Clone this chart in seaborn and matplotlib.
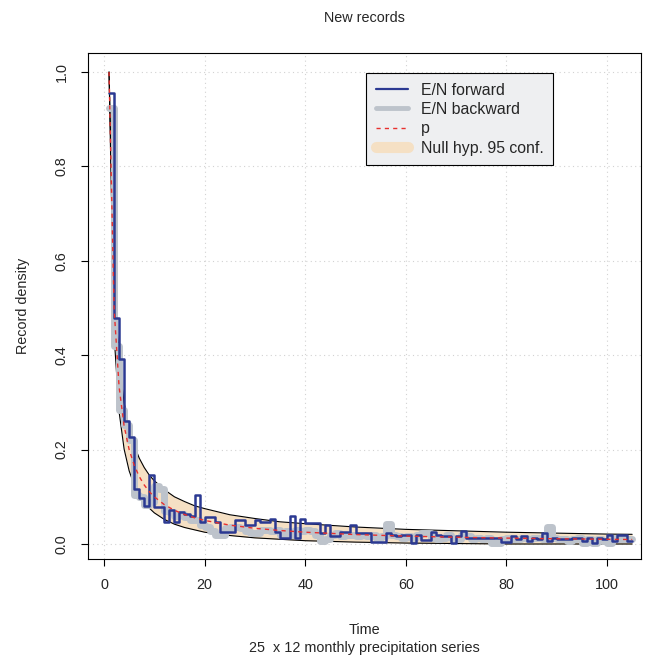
import numpy as np
import pandas as pd
import seaborn as sns
import matplotlib.pyplot as plt
from matplotlib.lines import Line2D

# Zeitachse und Werte
t_steps = list(range(1, 106))

en_forward = [
    0.955, 0.478, 0.393, 0.260, 0.227,
    0.117, 0.097, 0.080, 0.147, 0.079,
    0.079, 0.047, 0.072, 0.047, 0.067,
    0.063, 0.060, 0.104, 0.047, 0.058,
    0.058, 0.047, 0.026, 0.026, 0.026,
    0.051, 0.051, 0.040, 0.040, 0.051,
    0.047, 0.047, 0.054, 0.026, 0.012,
    0.012, 0.060, 0.012, 0.053, 0.044,
    0.044, 0.044, 0.023, 0.040, 0.016,
    0.016, 0.026, 0.026, 0.040, 0.023,
    0.023, 0.023, 0.005, 0.005, 0.005,
    0.023, 0.019, 0.016, 0.020, 0.020,
    0.003, 0.020, 0.009, 0.009, 0.026,
    0.019, 0.016, 0.016, 0.003, 0.016,
    0.028, 0.012, 0.012, 0.012, 0.012,
    0.012, 0.012, 0.012, 0.005, 0.005,
    0.017, 0.010, 0.017, 0.007, 0.013,
    0.010, 0.023, 0.007, 0.013, 0.010,
    0.010, 0.010, 0.013, 0.013, 0.007,
    0.013, 0.003, 0.013, 0.010, 0.020,
    0.007, 0.020, 0.020, 0.007, 0.007,
]

en_backward = [
    0.923, 0.420, 0.283, 0.253, 0.220,
    0.103, 0.100, 0.083, 0.090, 0.123,
    0.117, 0.070, 0.067, 0.060, 0.063,
    0.057, 0.050, 0.050, 0.040, 0.037,
    0.027, 0.020, 0.020, 0.033, 0.037,
    0.037, 0.033, 0.027, 0.023, 0.023,
    0.030, 0.030, 0.027, 0.030, 0.020,
    0.027, 0.020, 0.030, 0.027, 0.030,
    0.027, 0.020, 0.007, 0.010, 0.020,
    0.023, 0.017, 0.020, 0.020, 0.017,
    0.020, 0.017, 0.020, 0.013, 0.017,
    0.043, 0.020, 0.017, 0.013, 0.017,
    0.013, 0.020, 0.023, 0.023, 0.013,
    0.010, 0.013, 0.020, 0.013, 0.010,
    0.020, 0.017, 0.010, 0.013, 0.010,
    0.013, 0.003, 0.003, 0.010, 0.013,
    0.010, 0.010, 0.013, 0.010, 0.013,
    0.013, 0.010, 0.037, 0.013, 0.010,
    0.010, 0.007, 0.010, 0.013, 0.003,
    0.010, 0.003, 0.010, 0.007, 0.003,
    0.013, 0.010, 0.010, 0.010, 0.010,
]

# Stützstellen für p und das Konfidenzband
t_curve = [1, 2, 3, 4, 5, 6, 7, 8, 9, 10, 12, 14, 16, 18, 20,
           25, 30, 35, 40, 50, 60, 70, 80, 90, 100, 105]
p_curve = [1.0, 0.5, 0.333, 0.25, 0.2, 0.167, 0.143, 0.125, 0.111, 0.1,
           0.0833, 0.0714, 0.0625, 0.0556, 0.05, 0.04, 0.0333, 0.0286,
           0.025, 0.02, 0.0167, 0.0143, 0.0125, 0.0111, 0.01, 0.0095]
band_upper = [1.0, 0.557, 0.387, 0.299, 0.245, 0.209, 0.182, 0.162, 0.146,
              0.134, 0.115, 0.100, 0.090, 0.081, 0.075, 0.062, 0.054, 0.047,
              0.043, 0.036, 0.031, 0.028, 0.025, 0.023, 0.021, 0.0205]
band_lower = [1.0, 0.443, 0.280, 0.201, 0.155, 0.125, 0.103, 0.088, 0.076,
              0.066, 0.052, 0.042, 0.035, 0.030, 0.025, 0.018, 0.013, 0.010,
              0.007, 0.004, 0.002, 0.001, 0.0, 0.0, 0.0, 0.0]

steps = pd.DataFrame({"t": t_steps, "fwd": en_forward, "bwd": en_backward})
curve = pd.DataFrame({"t": t_curve, "p": p_curve,
                      "up": band_upper, "lo": band_lower})

c_blue = "#2B3992"
c_grey = "#BDC3CB"
c_red = "#E8302E"
c_band = "#F5E0C4"

sns.set_theme(style="white")
plt.rcParams["font.family"] = ["Liberation Sans", "DejaVu Sans"]
plt.rcParams["font.size"] = 10.4

fig = plt.figure(figsize=(6.56, 6.57), dpi=100)
ax = fig.add_axes([88 / 656, 1 - 559 / 657, 553 / 656, 506 / 657])

ax.grid(True, linestyle=(0, (1, 3)), color="#D2D2D2", linewidth=0.8)
ax.set_axisbelow(True)

# Konfidenzband
ax.fill_between(curve["t"], curve["lo"], curve["up"], color=c_band, lw=0, zorder=2)
sns.lineplot(data=curve, x="t", y="up", ax=ax, color="black", lw=0.8,
             estimator=None, sort=False, zorder=3)
sns.lineplot(data=curve, x="t", y="lo", ax=ax, color="black", lw=0.8,
             estimator=None, sort=False, zorder=3)

# E/N rückwärts / vorwärts
sns.lineplot(data=steps, x="t", y="bwd", ax=ax, color=c_grey, lw=5,
             drawstyle="steps-post", estimator=None, zorder=4)
sns.lineplot(data=steps, x="t", y="fwd", ax=ax, color=c_blue, lw=1.8,
             drawstyle="steps-post", estimator=None, zorder=5)

# p
sns.lineplot(data=curve, x="t", y="p", ax=ax, color=c_red, lw=1.0,
             dashes=False, linestyle=(0, (3, 3)), estimator=None, zorder=6)

ax.set_xlim((88 - 104) / 5.03, (641 - 104) / 5.03)
ax.set_ylim((544 - 559) / 472, (544 - 53) / 472)

ax.set_xticks([0, 20, 40, 60, 80, 100])
ax.set_yticks([0.0, 0.2, 0.4, 0.6, 0.8, 1.0])
ax.set_yticklabels(["0.0", "0.2", "0.4", "0.6", "0.8", "1.0"],
                   rotation=90, va="center")
ax.tick_params(axis="both", direction="out", length=5, width=0.8,
               color="black", labelsize=10.4, pad=9, bottom=True, left=True)
for sp in ax.spines.values():
    sp.set_color("black")
    sp.set_linewidth(0.8)

ax.set_title("New records", fontsize=10.4, pad=22)
ax.set_xlabel("Time\n25  x 12 monthly precipitation series",
              fontsize=10.4, labelpad=22, linespacing=1.35)
ax.set_ylabel("Record density", fontsize=10.4, labelpad=18)

handles = [
    Line2D([], [], color=c_blue, lw=1.6),
    Line2D([], [], color=c_grey, lw=3.5, solid_capstyle="round"),
    Line2D([], [], color=c_red, lw=1.0, linestyle=(0, (3, 3))),
    Line2D([], [], color=c_band, lw=8, solid_capstyle="round"),
]
labels = ["E/N forward", "E/N backward", "p", "Null hyp. 95 conf."]
leg = ax.legend(handles, labels, loc="upper left", bbox_to_anchor=(0.503, 0.96),
                fancybox=False, framealpha=1, facecolor="#EEEFF1",
                edgecolor="black", fontsize=11.4, handlelength=2.05,
                handletextpad=0.8, labelspacing=0.27, borderpad=0.6,
                borderaxespad=0)
leg.get_frame().set_linewidth(0.8)

fig.savefig("out.png", dpi=100)
